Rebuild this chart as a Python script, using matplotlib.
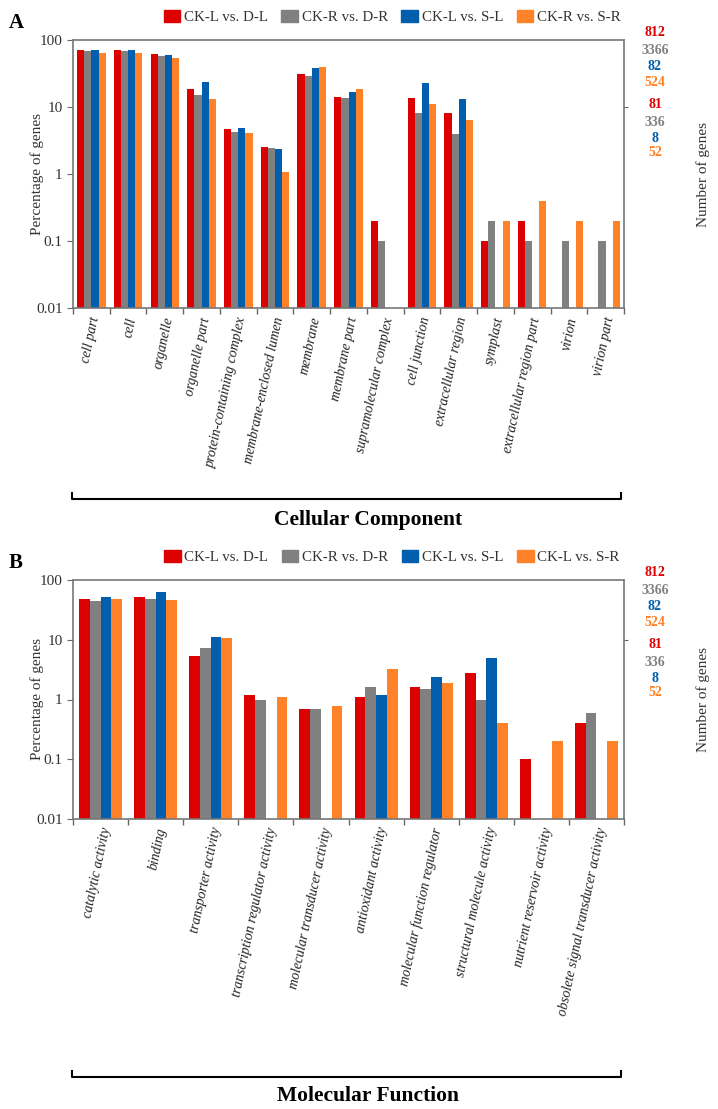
import numpy as np
import matplotlib.pyplot as plt
from matplotlib.patches import Patch
from matplotlib.lines import Line2D

plt.rcParams['font.family'] = ['Liberation Serif', 'DejaVu Serif']

# ---- data ----
cc_terms = ["cell part", "cell", "organelle", "organelle part", "protein-containing complex",
            "membrane-enclosed lumen", "membrane", "membrane part", "supramolecular complex",
            "cell junction", "extracellular region", "symplast", "extracellular region part",
            "virion", "virion part"]
cc_ckl_dl = [72, 72, 61, 18.4, 4.7, 2.56, 31.5, 13.9, 0.2, 13.5, 8.0, 0.1, 0.2, np.nan, np.nan]
cc_ckr_dr = [68, 68, 58, 15.3, 4.3, 2.47, 29, 13.6, 0.1, 8.0, 4.0, 0.2, 0.1, 0.1, 0.1]
cc_ckl_sl = [70, 70, 60, 23.9, 4.9, 2.36, 38, 16.7, np.nan, 23, 13.3, np.nan, np.nan, np.nan, np.nan]
cc_ckr_sr = [63, 63, 53, 13.3, 4.1, 1.07, 40, 18.8, np.nan, 11.1, 6.5, 0.2, 0.4, 0.2, 0.2]

mf_terms = ["catalytic activity", "binding", "transporter activity",
            "transcription regulator activity", "molecular transducer activity",
            "antioxidant activity", "molecular function regulator",
            "structural molecule activity", "nutrient reservoir activity",
            "obsolete signal transducer activity"]
mf_ckl_dl = [49, 51, 5.4, 1.18, 0.70, 1.09, 1.6, 2.8, 0.1, 0.4]
mf_ckr_dr = [45, 49, 7.3, 1.0, 0.70, 1.6, 1.49, 1.0, np.nan, 0.6]
mf_ckl_sl = [52, 62, 11, np.nan, np.nan, 1.2, 2.4, 4.9, np.nan, np.nan]
mf_ckl_sr = [49, 46, 10.6, 1.09, 0.79, 3.2, 1.9, 0.4, 0.2, 0.2]

cc_labels = ["CK-L vs. D-L", "CK-R vs. D-R", "CK-L vs. S-L", "CK-R vs. S-R"]
mf_labels = ["CK-L vs. D-L", "CK-R vs. D-R", "CK-L vs. S-L", "CK-L vs. S-R"]
colors = ["#DD0000", "#808080", "#005EAC", "#FF8228"]

gene_counts = ["812", "3366", "82", "524", "81", "336", "8", "52"]
count_colors = colors + colors

W, H = 718, 1109
fig = plt.figure(figsize=(W / 100, H / 100), dpi=100)

def px(x, y):
    return x / W, 1 - y / H

def panel(top, bottom, terms, series, labels, letter, title, bracket_y, title_y):
    left, right = 73, 624
    ax = fig.add_axes([left / W, 1 - bottom / H, (right - left) / W, (bottom - top) / H])
    n = len(terms)
    x = np.arange(n)
    w = 0.195
    for i, vals in enumerate(series):
        ax.bar(x + (i - 1.5) * w, vals, width=w, color=colors[i], log=True)
    ax.set_yscale('log')
    ax.set_ylim(0.01, 100)
    ax.set_xlim(-0.5, n - 0.5)
    ax.set_yticks([0.01, 0.1, 1, 10, 100])
    ax.set_yticklabels(["0.01", "0.1", "1", "10", "100"])
    ax.minorticks_off()
    ax.set_xticks(np.arange(n + 1) - 0.5, minor=False)
    ax.set_xticklabels([])
    ax.tick_params(axis='x', length=4, color='#666666', width=1)
    ax.tick_params(axis='y', length=4, color='#666666', labelsize=11, labelcolor='#333333')
    for t, xi in zip(terms, x):
        ax.text(xi + 0.12, -0.035, t, transform=ax.get_xaxis_transform(), rotation=78,
                rotation_mode='anchor', ha='right', va='center', fontsize=10,
                style='italic', color='#222222')
    for s in ax.spines.values():
        s.set_color('#777777')
        s.set_linewidth(1.2)
    ax.set_ylabel("Percentage of genes", fontsize=11, color='#333333')
    ax.yaxis.set_label_coords(-0.052, 0.5)

    ax2 = ax.twinx()
    ax2.set_yscale('log')
    ax2.set_ylim(0.01, 100)
    ax2.set_yticks([10])
    ax2.set_yticklabels([""])
    ax2.minorticks_off()
    ax2.tick_params(axis='y', length=3, color='#666666')
    for s in ax2.spines.values():
        s.set_visible(False)
    fig.text(*px(703, (top + bottom) / 2), "Number of genes", rotation=90, fontsize=11,
             color='#333333', ha='center', va='center')

    offsets = [-8, 11, 27, 43, 64, 83, 98, 113]
    for txt, c, off in zip(gene_counts, count_colors, offsets):
        fig.text(*px(655, top + off), txt, color=c, fontsize=10, fontweight='bold',
                 ha='center', va='center')

    handles = [Patch(facecolor=c, edgecolor=c) for c in colors]
    fig.legend(handles, labels, loc='center', bbox_to_anchor=px(392, top - 23), ncol=4,
               frameon=False, fontsize=10.8, handlelength=1.1, handleheight=0.8,
               handletextpad=0.25, columnspacing=0.9, labelcolor='#333333')
    fig.text(*px(16, top - 17), letter, fontsize=15, fontweight='bold', ha='center', va='center')

    fig.add_artist(Line2D([72 / W, 72 / W, 621 / W, 621 / W],
                          [1 - (bracket_y - 6) / H, 1 - bracket_y / H, 1 - bracket_y / H, 1 - (bracket_y - 6) / H],
                          color='black', lw=1.5))
    fig.text(*px(368, title_y), title, fontsize=15.5, fontweight='bold', ha='center', va='center')

panel(40, 308, cc_terms, [cc_ckl_dl, cc_ckr_dr, cc_ckl_sl, cc_ckr_sr], cc_labels,
      "A", "Cellular Component", 499, 520)
panel(580, 819, mf_terms, [mf_ckl_dl, mf_ckr_dr, mf_ckl_sl, mf_ckl_sr], mf_labels,
      "B", "Molecular Function", 1077, 1096)

fig.savefig("out.png", dpi=100)
